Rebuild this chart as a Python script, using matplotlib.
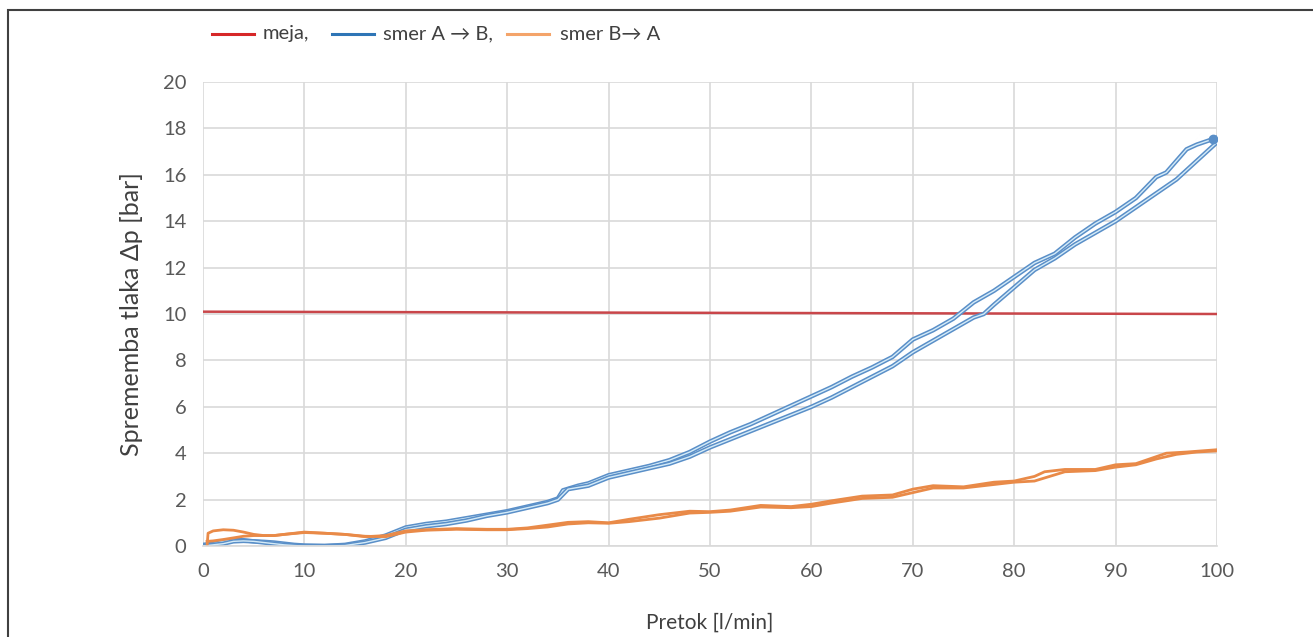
import matplotlib.pyplot as plt
from matplotlib.lines import Line2D
from matplotlib.patches import Rectangle

plt.rcParams['font.family'] = ['Lato', 'DejaVu Sans']

# limit line
limit_x = [0, 100]
limit_y = [10.1, 10.0]

# direction A -> B (two branches of the loop)
ab_up_x = [0, 1, 2, 3, 4, 5, 6, 7, 8, 9, 10, 12, 14, 16, 18, 20, 22, 24, 26, 28,
           30, 32, 34, 35, 35.5, 37, 38, 40, 42, 44, 46, 48, 50, 52, 54, 56, 58,
           60, 62, 64, 66, 68, 70, 72, 74, 75, 76, 78, 80, 82, 84, 86, 88, 90,
           92, 94, 95, 96, 97, 98, 100]
ab_up_y = [0.05, 0.1, 0.2, 0.25, 0.25, 0.2, 0.18, 0.15, 0.1, 0.05, 0.02, 0.0, 0.05,
           0.2, 0.45, 0.8, 0.95, 1.05, 1.2, 1.35, 1.5, 1.7, 1.9, 2.05, 2.4, 2.6,
           2.7, 3.05, 3.25, 3.45, 3.7, 4.05, 4.5, 4.9, 5.25, 5.65, 6.05, 6.45,
           6.85, 7.3, 7.7, 8.15, 8.9, 9.3, 9.8, 10.15, 10.5, 11.0, 11.6, 12.2,
           12.6, 13.3, 13.9, 14.4, 15.0, 15.9, 16.1, 16.6, 17.1, 17.3, 17.6]
ab_dn_x = [0, 1, 2, 3, 4, 5, 6, 7, 8, 9, 10, 12, 14, 16, 18, 20, 22, 24, 26, 28,
           30, 32, 34, 35, 36, 38, 40, 42, 44, 46, 48, 50, 52, 54, 56, 58, 60,
           62, 64, 66, 68, 70, 72, 74, 76, 77, 78, 80, 82, 84, 86, 88, 90, 92,
           94, 96, 98, 99, 100]
ab_dn_y = [0.0, 0.05, 0.1, 0.2, 0.22, 0.2, 0.15, 0.1, 0.05, 0.02, 0.0, 0.0, 0.02,
           0.15, 0.35, 0.7, 0.85, 0.95, 1.1, 1.3, 1.45, 1.65, 1.85, 2.0, 2.45,
           2.6, 2.95, 3.15, 3.35, 3.55, 3.85, 4.25, 4.6, 4.95, 5.3, 5.65, 6.0,
           6.4, 6.85, 7.3, 7.75, 8.35, 8.85, 9.35, 9.85, 10.0, 10.4, 11.15, 11.9,
           12.4, 13.0, 13.5, 14.0, 14.6, 15.2, 15.8, 16.6, 17.0, 17.4]

# direction B -> A (two branches of the loop)
ba_up_x = [0.4, 0.5, 1, 2, 3, 4, 5, 6, 7, 8, 10, 12, 14, 16, 18, 20, 22, 25, 28,
           30, 32, 34, 36, 38, 40, 42, 45, 48, 50, 52, 55, 58, 60, 62, 65, 68,
           70, 72, 75, 78, 80, 82, 83, 85, 88, 90, 92, 94, 95, 97, 100]
ba_up_y = [0.0, 0.55, 0.65, 0.7, 0.68, 0.6, 0.5, 0.45, 0.45, 0.5, 0.6, 0.55,
           0.5, 0.4, 0.45, 0.65, 0.7, 0.75, 0.72, 0.72, 0.78, 0.9, 1.02, 1.05,
           1.0, 1.15, 1.35, 1.5, 1.48, 1.55, 1.75, 1.7, 1.8, 1.95, 2.15, 2.2,
           2.45, 2.6, 2.55, 2.75, 2.8, 3.0, 3.2, 3.3, 3.3, 3.5, 3.55, 3.85,
           4.0, 4.05, 4.15]
ba_dn_x = [0.4, 1, 2, 3, 4, 5, 6, 7, 8, 10, 12, 14, 16, 18, 20, 22, 25, 28, 30,
           32, 34, 36, 38, 40, 42, 45, 48, 50, 52, 55, 58, 60, 62, 65, 68, 70,
           72, 75, 78, 80, 82, 85, 88, 90, 92, 94, 96, 98, 100]
ba_dn_y = [0.2, 0.22, 0.28, 0.35, 0.42, 0.45, 0.45, 0.45, 0.5, 0.58, 0.55, 0.5,
           0.42, 0.4, 0.6, 0.68, 0.72, 0.7, 0.7, 0.75, 0.82, 0.95, 1.0, 0.98,
           1.05, 1.2, 1.42, 1.45, 1.5, 1.68, 1.65, 1.7, 1.85, 2.05, 2.1, 2.3,
           2.5, 2.5, 2.65, 2.75, 2.8, 3.2, 3.25, 3.4, 3.5, 3.75, 3.95, 4.05, 4.1]

x_ticks = list(range(0, 101, 10))
y_ticks = list(range(0, 21, 2))

red = '#c9464a'
blue = '#5a8fc8'
blue_light = '#d4ebf8'
orange = '#e98a48'
txt = '#595959'

W, H = 1313, 637
fig = plt.figure(figsize=(W / 100, H / 100), dpi=100)
ax = fig.add_axes([203 / W, 1 - 546 / H, 1014 / W, 464 / H])

ax.plot(limit_x, limit_y, color=red, lw=1.8)
for bx, by in [(ab_up_x, ab_up_y), (ab_dn_x, ab_dn_y)]:
    ax.plot(bx, by, color=blue, lw=3.2, solid_joinstyle='round')
    ax.plot(bx, by, color=blue_light, lw=1.0, solid_joinstyle='round')
ax.plot([99.6], [17.55], 'o', color=blue, ms=6)
ax.plot(ba_up_x, ba_up_y, color=orange, lw=2.0)
ax.plot(ba_dn_x, ba_dn_y, color=orange, lw=2.0)

ax.set_xlim(0, 100)
ax.set_ylim(0, 20)
ax.set_xticks(x_ticks)
ax.set_yticks(y_ticks)
ax.grid(True, color='#d9d9d9', lw=1.2)
ax.set_axisbelow(True)
for s in ax.spines.values():
    s.set_visible(False)
ax.spines['bottom'].set_visible(True)
ax.spines['bottom'].set_color('#d9d9d9')
ax.spines['bottom'].set_linewidth(1.2)
ax.tick_params(length=0, labelsize=14.5, labelcolor=txt, pad=12)

ax.set_xlabel('Pretok [l/min]', fontsize=15, color='#404040', labelpad=24)
ax.set_ylabel('Sprememba tlaka Δp [bar]', fontsize=18, color='#404040', labelpad=14)

# legend at top, laid out by hand in pixels
leg_items = [('#d62728', 'meja,', 212, 263),
             ('#2e75b6', 'smer A → B,', 332, 383),
             ('#f4a46a', 'smer B→ A', 507, 560)]
ly = 1 - 34 / H
for c, lab, x0, xt in leg_items:
    fig.add_artist(Line2D([x0 / W, (x0 + 42) / W], [ly, ly], color=c, lw=2.2))
    fig.text(xt / W, ly, lab, fontsize=14.5, color='#404040', va='center', ha='left')

# outer frame
fig.patches.append(Rectangle((8 / W, -0.1), 1.2, 1.1 - 10 / H,
                             transform=fig.transFigure, fill=False,
                             edgecolor='#404040', lw=1.5, clip_on=False))

fig.savefig('out.png', dpi=100)
